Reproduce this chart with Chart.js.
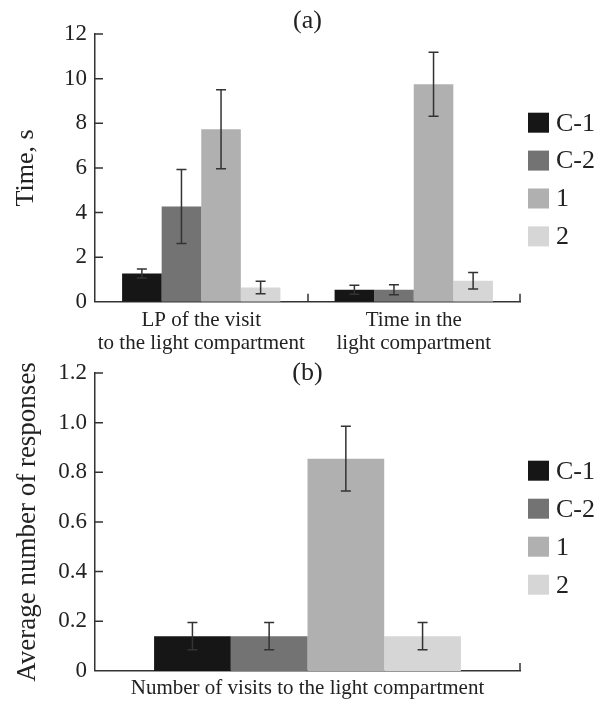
<!DOCTYPE html>
<html>
<head>
<meta charset="utf-8">
<script src="https://cdn.jsdelivr.net/npm/chart.js@4/dist/chart.umd.min.js"></script>
<style>
  html, body { margin: 0; padding: 0; background: #fff; overflow: hidden; }
  #wrap { position: relative; width: 607px; height: 704px; overflow: hidden; }
  .box { position: absolute; left: 0; width: 607px; }
  #boxA { top: 0; height: 368px; }
  #boxB { top: 345px; height: 365px; }
</style>
</head>
<body>
<div id="wrap">
  <div class="box" id="boxA"><canvas id="chartA"></canvas></div>
  <div class="box" id="boxB"><canvas id="chartB"></canvas></div>
</div>
<script>
// ---------- DATA ----------
const seriesNames = ['C-1', 'C-2', '1', '2'];
const seriesColors = ['#161616', '#737373', '#b0b0b0', '#d6d6d6'];

// Panel (a)
const categoriesA = [['LP of the visit', 'to the light compartment'], ['Time in the', 'light compartment']];
const valuesA_C1 = [1.27, 0.54];
const valuesA_C2 = [4.27, 0.54];
const valuesA_1  = [7.73, 9.75];
const valuesA_2  = [0.64, 0.94];
const errorsA_C1 = [0.20, 0.20];
const errorsA_C2 = [1.66, 0.22];
const errorsA_1  = [1.77, 1.43];
const errorsA_2  = [0.28, 0.37];
const yTickLabelsA = ['0', '2', '4', '6', '8', '10', '12'];

// Panel (b)
const categoriesB = ['Number of visits to the light compartment'];
const valuesB_C1 = [0.14];
const valuesB_C2 = [0.14];
const valuesB_1  = [0.855];
const valuesB_2  = [0.14];
const errorsB_C1 = [0.055];
const errorsB_C2 = [0.055];
const errorsB_1  = [0.13];
const errorsB_2  = [0.055];
const yTickLabelsB = ['0', '0.2', '0.4', '0.6', '0.8', '1.0', '1.2'];

// ---------- STYLE ----------
const SERIF = "'Liberation Serif', 'Times New Roman', serif";
const INK = '#222';
const AXIS = '#333';

// ---------- PLUGINS ----------
const errorBarPlugin = {
  id: 'errorBars',
  afterDatasetsDraw(chart) {
    const ctx = chart.ctx;
    const y = chart.scales.y;
    ctx.save();
    ctx.strokeStyle = AXIS;
    ctx.lineWidth = 1.5;
    chart.data.datasets.forEach((ds, di) => {
      const meta = chart.getDatasetMeta(di);
      meta.data.forEach((bar, j) => {
        const v = ds.data[j], e = ds.errors[j];
        const yt = y.getPixelForValue(v + e);
        const yb = y.getPixelForValue(v - e);
        const x = bar.x, cw = 5;
        ctx.beginPath();
        ctx.moveTo(x, yt); ctx.lineTo(x, yb);
        ctx.moveTo(x - cw, yt); ctx.lineTo(x + cw, yt);
        ctx.moveTo(x - cw, yb); ctx.lineTo(x + cw, yb);
        ctx.stroke();
      });
    });
    ctx.restore();
  }
};

const innerTicksPlugin = {
  id: 'innerTicks',
  afterDraw(chart) {
    const ctx = chart.ctx, a = chart.chartArea;
    const xs = chart.scales.x, ys = chart.scales.y;
    ctx.save();
    ctx.strokeStyle = AXIS;
    ctx.lineWidth = 1.5;
    ctx.beginPath();
    ys.ticks.forEach((t, i) => {
      if (t.value === 0) return;
      const py = ys.getPixelForTick(i);
      ctx.moveTo(a.left, py); ctx.lineTo(a.left + 8, py);
    });
    const n = chart.data.labels.length;
    for (let i = 0; i < n; i++) {
      const px = Math.round(xs.getPixelForValue(i + 0.5));
      ctx.moveTo(px, a.bottom); ctx.lineTo(px, a.bottom - 8);
    }
    ctx.stroke();
    ctx.restore();
  }
};

const sideLegendPlugin = {
  id: 'sideLegend',
  afterDraw(chart, args, opts) {
    const ctx = chart.ctx, a = chart.chartArea;
    ctx.save();
    ctx.font = '26px ' + SERIF;
    ctx.textBaseline = 'middle';
    ctx.textAlign = 'left';
    chart.data.datasets.forEach((ds, i) => {
      const cy = a.top + opts.top + i * opts.spacing;
      ctx.fillStyle = ds.backgroundColor;
      ctx.fillRect(a.right + 8, cy - 10, 21, 20);
      ctx.fillStyle = INK;
      ctx.fillText(ds.label, a.right + 36, cy + 1);
    });
    ctx.restore();
  }
};

const panelLabelPlugin = {
  id: 'panelLabel',
  afterDraw(chart, args, opts) {
    const ctx = chart.ctx, a = chart.chartArea;
    ctx.save();
    ctx.font = '26px ' + SERIF;
    ctx.fillStyle = INK;
    ctx.textAlign = 'center';
    ctx.textBaseline = 'middle';
    ctx.fillText(opts.text, (a.left + a.right) / 2, a.top + opts.offset);
    ctx.restore();
  }
};

function makeDatasets(vals, errs) {
  return vals.map((v, i) => ({
    label: seriesNames[i],
    data: v,
    errors: errs[i],
    backgroundColor: seriesColors[i],
    borderWidth: 0,
    barPercentage: 1.0
  }));
}

function makeOptions(cfg) {
  return {
    responsive: true,
    maintainAspectRatio: false,
    animation: false,
    layout: { padding: cfg.padding },
    plugins: {
      legend: { display: false },
      tooltip: { enabled: false },
      title: { display: false },
      sideLegend: cfg.legend,
      panelLabel: cfg.panel
    },
    datasets: { bar: { categoryPercentage: cfg.catPct, barPercentage: 1.0 } },
    scales: {
      x: {
        grid: { display: false, drawTicks: false },
        border: { display: true, color: AXIS, width: 1.5 },
        ticks: {
          color: INK,
          padding: cfg.xPad,
          font: { family: SERIF, size: 21, lineHeight: 1.1 },
          maxRotation: 0, autoSkip: false
        }
      },
      y: {
        min: 0, max: cfg.yMax,
        ticks: {
          stepSize: cfg.yStep,
          color: INK,
          padding: 8,
          font: { family: SERIF, size: 23 },
          callback: (v, i) => cfg.tickLabels[i]
        },
        grid: { display: false, drawTicks: false },
        border: { display: true, color: AXIS, width: 1.5 },
        title: {
          display: true,
          text: cfg.yTitle,
          color: INK,
          font: { family: SERIF, size: cfg.yTitleSize, lineHeight: 1.2 },
          padding: { top: cfg.yTitlePad, bottom: 0 }
        },
        afterFit: (s) => { s.width = 95; }
      }
    }
  };
}

new Chart(document.getElementById('chartA'), {
  type: 'bar',
  data: {
    labels: categoriesA,
    datasets: makeDatasets(
      [valuesA_C1, valuesA_C2, valuesA_1, valuesA_2],
      [errorsA_C1, errorsA_C2, errorsA_1, errorsA_2])
  },
  options: makeOptions({
    padding: { left: 0, right: 87, top: 34, bottom: 6 },
    catPct: 0.745,
    xPad: 7,
    yMax: 12, yStep: 2, tickLabels: yTickLabelsA,
    yTitle: 'Time, s', yTitlePad: 11, yTitleSize: 26,
    legend: { top: 88.7, spacing: 37.9 },
    panel: { text: '(a)', offset: -13 }
  }),
  plugins: [errorBarPlugin, innerTicksPlugin, sideLegendPlugin, panelLabelPlugin]
});

new Chart(document.getElementById('chartB'), {
  type: 'bar',
  data: {
    labels: categoriesB,
    datasets: makeDatasets(
      [valuesB_C1, valuesB_C2, valuesB_1, valuesB_2],
      [errorsB_C1, errorsB_C2, errorsB_1, errorsB_2])
  },
  options: makeOptions({
    padding: { left: 0, right: 87, top: 28, bottom: 4 },
    catPct: 0.722,
    xPad: 6,
    yMax: 1.2, yStep: 0.2, tickLabels: yTickLabelsB,
    yTitle: 'Average number of responses', yTitlePad: 12, yTitleSize: 27,
    legend: { top: 97.7, spacing: 38 },
    panel: { text: '(b)', offset: 0 }
  }),
  plugins: [errorBarPlugin, innerTicksPlugin, sideLegendPlugin, panelLabelPlugin]
});
</script>
</body>
</html>
